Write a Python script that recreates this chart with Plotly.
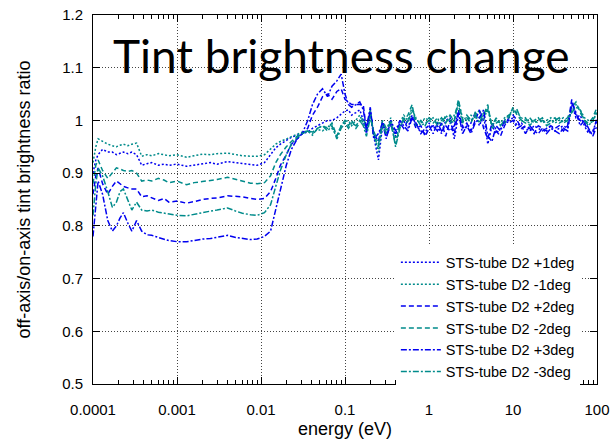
import plotly.graph_objects as go

# ---------------- data ----------------
energy = [1.0e-4, 1.08e-4, 1.15e-4, 1.3e-4, 1.5e-4, 1.7e-4, 1.9e-4, 2.1e-4, 2.3e-4, 2.6e-4,
          2.9e-4, 3.3e-4, 3.8e-4, 4.4e-4, 5e-4, 6e-4, 7e-4, 8e-4, 1e-3, 1.3e-3,
          1.6e-3, 2e-3, 2.5e-3, 3e-3, 4e-3, 5e-3, 6e-3, 7.5e-3, 9e-3, 0.011,
          0.013, 0.015, 0.017, 0.02, 0.023, 0.027, 0.031, 0.036, 0.041, 0.047,
          0.054, 0.062, 0.07, 0.08, 0.09, 0.1,
          0.11, 0.12, 0.135, 0.15, 0.165, 0.18, 0.2, 0.22, 0.25, 0.28,
          0.31, 0.35, 0.4, 0.45, 0.5, 0.56, 0.63, 0.7, 0.8, 0.9,
          1.0, 1.12, 1.26, 1.41, 1.58, 1.78, 2.0, 2.24, 2.51, 2.82,
          3.16, 3.55, 3.98, 4.47, 5.01, 5.62, 6.31, 7.08, 7.94, 8.91,
          10, 11.2, 12.6, 14.1, 15.8, 17.8, 20, 22.4, 25.1, 28.2,
          31.6, 35.5, 39.8, 44.7, 50.1, 56.2, 63.1, 70.8, 79.4, 89.1, 100]

plus1 = [0.90, 0.925, 0.935, 0.945, 0.94, 0.94, 0.935, 0.938, 0.94, 0.937,
         0.94, 0.935, 0.915, 0.918, 0.92, 0.915, 0.917, 0.915, 0.917, 0.913,
         0.915, 0.918, 0.92, 0.917, 0.922, 0.92, 0.918, 0.916, 0.915, 0.92,
         0.935, 0.948, 0.955, 0.962, 0.968, 0.972, 0.975, 0.978, 0.985, 0.99,
         0.995, 1.0, 1.0, 1.005, 1.012, 1.018,
         1.02, 1.01, 1.015, 1.02, 1.0, 0.975, 1.015, 0.97, 0.925, 0.99,
         0.975, 0.995, 0.97, 0.99, 1.0, 0.985, 1.01, 0.99, 0.98, 0.975,
         0.995, 0.985, 0.99, 0.975, 1.0, 1.005, 0.965, 1.01, 0.99, 0.985,
         0.995, 1.015, 0.99, 1.01, 0.955, 0.99, 0.975, 0.985, 0.995, 1.0,
         1.005, 0.99, 0.995, 0.985, 0.98, 0.99, 0.985, 0.98, 0.985, 0.99,
         0.98, 0.985, 0.99, 0.985, 1.03, 1.005, 1.01, 0.99, 0.975, 0.98, 1.0]

minus1 = [0.92, 0.95, 0.965, 0.96, 0.955, 0.952, 0.95, 0.953, 0.955, 0.952,
          0.955, 0.957, 0.932, 0.935, 0.933, 0.937, 0.935, 0.933, 0.935, 0.93,
          0.933, 0.936, 0.935, 0.937, 0.938, 0.935, 0.933, 0.932, 0.932, 0.935,
          0.945, 0.955, 0.96, 0.965, 0.97, 0.975, 0.978, 0.98, 0.975, 0.983,
          0.98, 0.99, 0.985, 0.97, 0.99, 0.998,
          1.0, 0.99, 1.0, 1.01, 0.995, 0.98, 1.01, 0.975, 0.94, 0.995,
          0.98, 1.005, 0.965, 0.995, 1.01, 1.0, 1.025, 1.0, 0.995, 1.005,
          1.0, 0.995, 1.005, 0.99, 1.01, 1.0, 0.995, 1.035, 1.005, 1.0,
          1.01, 1.005, 1.02, 1.0, 1.025, 0.99, 1.0, 0.995, 1.005, 1.01,
          1.02, 1.015, 1.005, 1.0, 0.995, 1.0, 1.005, 0.995, 1.0, 1.005,
          0.995, 1.0, 1.005, 0.995, 1.02, 1.03, 1.02, 1.005, 1.0, 0.995, 1.02]

plus2 = [0.86, 0.895, 0.91, 0.88, 0.86, 0.875, 0.885, 0.88, 0.875, 0.872,
         0.87, 0.87, 0.855, 0.857, 0.853, 0.848, 0.852, 0.845, 0.847, 0.843,
         0.846, 0.85, 0.852, 0.853, 0.857, 0.856, 0.855, 0.852, 0.85, 0.852,
         0.865, 0.89, 0.915, 0.935, 0.955, 0.965, 0.975, 0.985, 1.01, 1.025,
         1.045, 1.05, 1.04, 1.055, 1.06, 1.04,
         1.035, 1.03, 1.03, 1.03, 1.03, 0.98, 1.02, 0.975, 0.96, 1.0,
         0.97, 0.99, 0.975, 0.995, 0.985, 1.0, 1.005, 0.985, 0.99, 0.97,
         0.985, 0.99, 0.98, 0.995, 0.97, 1.0, 0.975, 1.02, 0.985, 0.995,
         0.98, 1.0, 1.02, 0.985, 0.965, 0.995, 0.98, 0.97, 0.99, 1.005,
         1.01, 1.0, 0.985, 0.99, 0.985, 0.975, 0.99, 0.985, 0.98, 0.99,
         0.985, 0.99, 0.98, 0.99, 1.04, 1.01, 1.0, 0.995, 0.98, 0.975, 1.005]

minus2 = [0.88, 0.915, 0.925, 0.905, 0.89, 0.9, 0.91, 0.908, 0.905, 0.903,
          0.905, 0.9, 0.885, 0.887, 0.885, 0.89, 0.887, 0.882, 0.885, 0.878,
          0.882, 0.884, 0.886, 0.888, 0.892, 0.888, 0.884, 0.881, 0.88, 0.882,
          0.895, 0.92, 0.935, 0.95, 0.96, 0.97, 0.975, 0.98, 0.978, 0.985,
          0.99, 0.985, 0.995, 0.97, 0.99, 1.0,
          0.99, 1.0, 0.985, 0.995, 1.005, 0.985, 1.02, 0.97, 0.95, 1.0,
          0.985, 0.995, 0.955, 0.99, 1.0, 1.01, 1.03, 0.99, 1.0, 0.99,
          1.005, 1.0, 0.995, 1.005, 0.995, 1.01, 1.0, 1.04, 1.0, 1.005,
          0.995, 1.015, 1.005, 1.01, 1.03, 0.985, 0.995, 1.0, 0.995, 1.005,
          1.025, 1.01, 1.0, 1.005, 0.99, 1.0, 0.995, 1.0, 0.995, 1.0,
          1.005, 0.995, 1.0, 1.005, 1.025, 1.035, 1.015, 1.0, 0.995, 1.005, 1.025]

plus3 = [0.78, 0.84, 0.885, 0.86, 0.81, 0.79, 0.8, 0.815, 0.825, 0.805,
         0.79, 0.81, 0.79, 0.783, 0.782, 0.778, 0.775, 0.772, 0.77, 0.77,
         0.772, 0.775, 0.776, 0.778, 0.782, 0.778, 0.776, 0.774, 0.775, 0.78,
         0.79, 0.83, 0.87, 0.915, 0.945, 0.965, 0.975, 1.0, 1.03, 1.05,
         1.06, 1.045, 1.065, 1.075, 1.088, 1.05,
         1.03, 1.025, 1.03, 1.035, 1.02, 0.985, 1.025, 0.965, 0.975, 0.995,
         0.965, 1.0, 0.98, 1.0, 0.99, 0.98, 1.005, 0.995, 0.975, 0.985,
         0.99, 0.975, 0.995, 0.98, 0.99, 0.98, 0.99, 1.015, 0.975, 0.99,
         0.975, 0.995, 1.005, 1.02, 0.97, 0.96, 0.99, 0.98, 1.0, 0.995,
         1.0, 0.985, 0.99, 0.975, 0.99, 0.98, 0.975, 0.985, 0.975, 0.985,
         0.98, 0.975, 0.985, 0.98, 1.035, 1.015, 0.99, 1.0, 0.985, 0.97, 0.99]

minus3 = [0.82, 0.88, 0.91, 0.895, 0.865, 0.835, 0.845, 0.865, 0.87, 0.85,
          0.83, 0.845, 0.83, 0.828, 0.83, 0.826, 0.824, 0.822, 0.82, 0.819,
          0.822, 0.826, 0.828, 0.83, 0.834, 0.828, 0.824, 0.821, 0.82, 0.825,
          0.84, 0.875, 0.905, 0.935, 0.955, 0.968, 0.975, 0.98, 0.972, 0.985,
          0.99, 0.98, 0.99, 0.965, 0.985, 0.995,
          0.985, 0.995, 0.99, 1.0, 0.99, 0.97, 1.005, 0.98, 0.955, 0.99,
          0.975, 1.0, 0.95, 0.985, 1.005, 0.995, 1.02, 1.005, 0.99, 0.995,
          1.0, 1.005, 0.99, 1.0, 1.005, 0.995, 1.01, 1.03, 0.995, 1.01,
          1.0, 1.01, 0.995, 1.015, 1.02, 0.99, 1.005, 0.99, 1.0, 1.01,
          1.015, 1.02, 1.0, 0.995, 1.005, 0.995, 1.0, 1.005, 0.99, 0.995,
          1.0, 1.005, 0.995, 1.0, 1.015, 1.025, 1.02, 1.0, 0.99, 1.0, 1.015]

series_names = ["STS-tube D2 +1deg", "STS-tube D2 -1deg", "STS-tube D2 +2deg",
                "STS-tube D2 -2deg", "STS-tube D2 +3deg", "STS-tube D2 -3deg"]
series_values = [plus1, minus1, plus2, minus2, plus3, minus3]
series_colors = ["#0000f0", "#008b8b", "#0000f0", "#008b8b", "#0000f0", "#008b8b"]
series_dash = ["2px,2px", "2px,2px", "5px,3px", "5px,3px",
               "6px,2px,2px,2px", "6px,2px,2px,2px"]

x_tickvals = [1e-4, 1e-3, 1e-2, 1e-1, 1, 10, 100]
x_ticktext = ["0.0001", "0.001", "0.01", "0.1", "1", "10", "100"]
y_tickvals = [0.5, 0.6, 0.7, 0.8, 0.9, 1.0, 1.1, 1.2]
y_ticktext = ["0.5", "0.6", "0.7", "0.8", "0.9", "1", "1.1", "1.2"]

title_text = "Tint brightness change"

# ---------------- figure ----------------
FONT = "Liberation Sans, Arial, sans-serif"
fig = go.Figure()
for name, vals, col, dash in zip(series_names, series_values, series_colors, series_dash):
    fig.add_trace(go.Scatter(x=energy, y=vals, mode="lines", name=name,
                             line=dict(color=col, width=1.5, dash=dash)))

fig.update_layout(
    width=610, height=441,
    margin=dict(l=93, r=13, t=15, b=57),
    paper_bgcolor="white", plot_bgcolor="white",
    font=dict(family=FONT, size=15, color="black"),
    showlegend=True,
    legend=dict(x=0.966, xanchor="right", y=-0.012, yanchor="bottom",
                bgcolor="white", borderwidth=0, font=dict(size=14.5),
                tracegroupgap=0, itemwidth=40),
    annotations=[dict(text=title_text, xref="paper", yref="paper",
                      x=0.494, y=0.89, xanchor="center", yanchor="middle",
                      showarrow=False,
                      font=dict(family="Lato, sans-serif", size=46, weight=400, color="black"))],
)

fig.update_xaxes(type="log", range=[-4, 2],
                 tickvals=x_tickvals, ticktext=x_ticktext,
                 ticks="inside", ticklen=7, tickcolor="black", ticklabelstandoff=12,
                 ticklabeloverflow="allow",
                 showline=True, linecolor="black", linewidth=1, mirror="allticks",
                 showgrid=True, gridcolor="#444", griddash="1px,2px", gridwidth=1,
                 zeroline=False, automargin=False,
                 minor=dict(ticks="inside", ticklen=4, tickcolor="black", dtick="D1", showgrid=False),
                 title=dict(text="energy (eV)", standoff=5))
fig.update_yaxes(range=[0.5, 1.2],
                 tickvals=y_tickvals, ticktext=y_ticktext,
                 ticks="inside", ticklen=7, tickcolor="black", ticklabelstandoff=6,
                 ticklabeloverflow="allow",
                 showline=True, linecolor="black", linewidth=1, mirror="allticks",
                 showgrid=True, gridcolor="#444", griddash="1px,2px", gridwidth=1,
                 zeroline=False, automargin=False,
                 title=dict(text="off-axis/on-axis tint brightness ratio", standoff=26))

# remove the browser's default 8px body margin so the figure fills the window exactly
fig.write_html("out.html",
               config={"displayModeBar": False, "staticPlot": True},
               post_script="document.body.style.margin='0';document.body.style.overflow='hidden';")
